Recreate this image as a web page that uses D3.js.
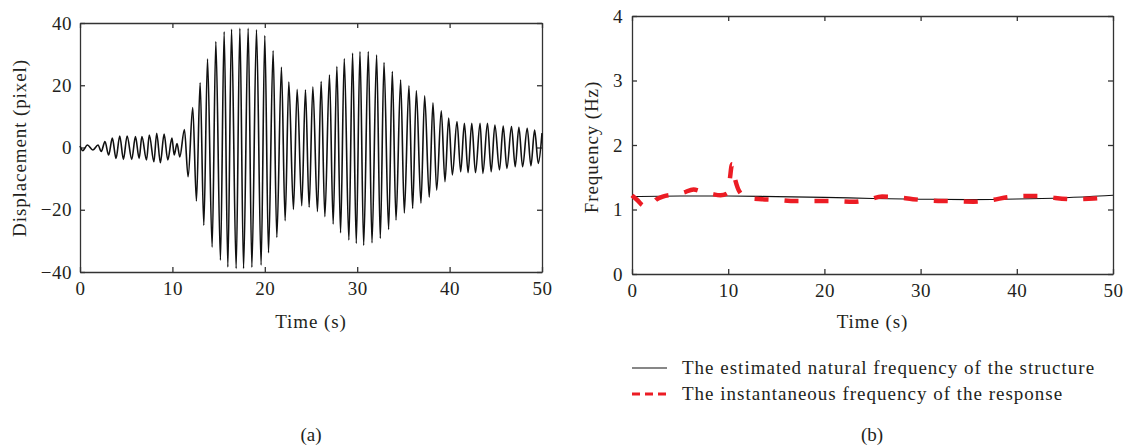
<!DOCTYPE html>
<html><head><meta charset="utf-8">
<script src="https://cdn.jsdelivr.net/npm/d3@7"></script>
<style>
body{margin:0;background:#fff}
svg text{font-family:"Liberation Serif","Times New Roman",serif;fill:#231f20}
</style>
</head><body>
<svg id="c" width="1132" height="447"></svg>
<script>
// ---- Panel (a): displacement extrema (time s, pixel) ----
const dispTime = [0.0,0.3,0.8,1.4,1.95,2.3,2.7,3.1,3.5,3.9,4.3,4.7,5.1,5.6,6.0,6.4,6.7,7.2,7.5,8.0,8.3,8.7,9.1,9.5,9.95,10.2,10.5,10.8,11.3,11.7,12.2,12.6,13.0,13.4,13.8,14.3,14.7,15.2,15.6,16.0,16.4,16.9,17.3,17.7,18.2,18.6,19.1,19.6,20.0,20.4,20.9,21.3,21.8,22.2,22.6,23.1,23.5,24.0,24.4,24.8,25.2,25.7,26.1,26.5,27.0,27.4,27.8,28.2,28.6,29.1,29.5,29.9,30.3,30.7,31.2,31.6,32.1,32.5,32.9,33.4,33.8,34.2,34.7,35.1,35.6,36.0,36.4,36.9,37.3,37.8,38.2,38.6,39.1,39.5,39.9,40.3,40.8,41.2,41.6,42.0,42.4,42.8,43.3,43.6,44.1,44.5,44.9,45.4,45.8,46.2,46.7,47.1,47.5,47.9,48.4,48.8,49.2,49.6,50.0];
const dispValue = [0.5,-1.0,0.8,-0.8,0.8,-1.3,1.9,-2.4,3.0,-3.5,3.7,-3.8,3.7,-3.8,3.5,-3.5,3.5,-4.0,4.0,-4.6,4.6,-4.9,4.3,-4.0,3.0,-2.4,1.3,-3.0,5.8,-9.4,12.8,-17.2,20.8,-25.0,28.4,-32.0,34.0,-36.2,37.2,-38.4,38.0,-38.9,38.3,-38.9,38.3,-38.5,37.8,-37.8,36.0,-33.8,31.1,-28.9,25.8,-23.5,21.0,-19.9,18.7,-18.7,18.5,-19.2,19.5,-20.6,21.2,-22.2,23.3,-24.6,26.0,-27.4,28.5,-29.7,30.3,-30.8,30.8,-31.4,30.8,-30.6,29.7,-29.2,27.3,-26.3,24.4,-23.3,21.7,-21.0,19.8,-19.6,18.3,-17.9,16.6,-16.0,14.4,-13.7,11.8,-11.0,9.5,-8.8,8.3,-7.8,7.8,-8.1,7.8,-8.1,7.8,-8.3,7.8,-7.8,7.2,-7.2,6.9,-6.7,6.7,-6.2,6.5,-6.2,6.2,-5.9,5.6,-5.1,4.6];
const dispYTicks = [-40,-20,0,20,40];
const timeTicks = [0,10,20,30,40,50];

// ---- Panel (b): frequencies (Hz) ----
const natTime = [0,5,10,15,20,25,30,35,40,45,50];
const natFreq = [1.20,1.21,1.21,1.20,1.19,1.17,1.16,1.15,1.16,1.18,1.22];
const instTime = [0,0.6,1.2,1.9,2.5,3.2,4.2,5.3,6.4,7.4,8.3,9.2,9.9,10.15,10.4,10.75,11.2,12.0,13.5,15,17,19,21,23,24.5,26,27.5,29.2,31,33,35.5,37.5,39,41,42.5,44,46,48,50];
const instFreq = [1.22,1.14,1.06,1.06,1.15,1.20,1.23,1.26,1.31,1.27,1.24,1.22,1.25,1.45,1.70,1.45,1.27,1.18,1.16,1.15,1.13,1.13,1.13,1.12,1.15,1.20,1.19,1.16,1.14,1.13,1.12,1.15,1.19,1.21,1.21,1.18,1.16,1.17,1.20];
const freqYTicks = [0,1,2,3,4];
const legendLabels = ["The estimated natural frequency of the structure","The instantaneous frequency of the response"];

const svg = d3.select("#c");
const FS = 19, LS = "0.9px", FRAME = "#333";

function panel(box, xDom, yDom, yTicks, yTitle, pad){
  const x = d3.scaleLinear().domain(xDom).range([box.l, box.r]);
  const y = d3.scaleLinear().domain(yDom).range([box.b, box.t]);
  const g = svg.append("g");
  const style = sel => { sel.selectAll("path,line").attr("stroke",FRAME).attr("stroke-width",1.3);
    sel.selectAll("text").attr("font-size",FS).attr("letter-spacing","0.5px").attr("fill","#231f20").attr("font-family",'"Liberation Serif",serif'); };
  g.append("g").attr("transform",`translate(0,${box.b})`)
    .call(d3.axisBottom(x).tickValues(timeTicks).tickSize(-5).tickSizeOuter(0).tickPadding(10).tickFormat(d3.format("d"))).call(style);
  g.append("g").attr("transform",`translate(0,${box.t})`)
    .call(d3.axisTop(x).tickValues(timeTicks).tickSize(-5).tickSizeOuter(0).tickFormat("")).call(style);
  g.append("g").attr("transform",`translate(${box.l},0)`)
    .call(d3.axisLeft(y).tickValues(yTicks).tickSize(-5).tickSizeOuter(0).tickPadding(pad).tickFormat(d3.format("d"))).call(style);
  g.append("g").attr("transform",`translate(${box.r},0)`)
    .call(d3.axisRight(y).tickValues(yTicks).tickSize(-5).tickSizeOuter(0).tickFormat("")).call(style);
  g.selectAll(".domain").attr("stroke",FRAME);
  const cx = (box.l+box.r)/2;
  g.append("text").attr("x",cx).attr("y",328).attr("text-anchor","middle").attr("font-size",FS).attr("letter-spacing",LS).text("Time (s)");
  g.append("text").attr("transform",`translate(${box.titleX},${box.titleY}) rotate(-90)`)
    .attr("text-anchor","middle").attr("font-size",FS).attr("letter-spacing",LS).text(yTitle);
  return {x,y,g};
}

// Panel a
const A = panel({l:80,r:542,t:23,b:272,titleX:26,titleY:148}, [0,50], [-40,40], dispYTicks, "Displacement (pixel)", 8);
const dispData = dispTime.map((t,i)=>({t, v:dispValue[i]}));
A.g.append("path").datum(dispData)
  .attr("fill","none").attr("stroke","#111").attr("stroke-width",1.6)
  .attr("d", d3.line().x(d=>A.x(d.t)).y(d=>A.y(d.v)).curve(d3.curveMonotoneX));

// Panel b
const B = panel({l:632,r:1113,t:16,b:274,titleX:598,titleY:147}, [0,50], [0,4], freqYTicks, "Frequency (Hz)", 9);
const natData = natTime.map((t,i)=>({t, v:natFreq[i]}));
const instData = instTime.map((t,i)=>({t, v:instFreq[i]}));
B.g.append("path").datum(natData)
  .attr("fill","none").attr("stroke","#111").attr("stroke-width",1.1)
  .attr("d", d3.line().x(d=>B.x(d.t)).y(d=>B.y(d.v)).curve(d3.curveBasis));
B.g.append("path").datum(instData)
  .attr("fill","none").attr("stroke","#ec1c24").attr("stroke-width",4.5)
  .attr("stroke-dasharray","14,16")
  .attr("d", d3.line().x(d=>B.x(d.t)).y(d=>B.y(d.v)).curve(d3.curveMonotoneX));

// Legend
const lg = svg.append("g");
const legY = [368, 394];
lg.append("line").attr("x1",632).attr("x2",667).attr("y1",legY[0]).attr("y2",legY[0]).attr("stroke","#111").attr("stroke-width",1.2);
lg.append("line").attr("x1",632).attr("x2",667).attr("y1",legY[1]).attr("y2",legY[1]).attr("stroke","#ec1c24").attr("stroke-width",3).attr("stroke-dasharray","8,5");
legendLabels.forEach((s,i)=>{
  lg.append("text").attr("x",682).attr("y",legY[i]+6).attr("font-size",19).attr("letter-spacing","1px").text(s);
});

// Panel captions
svg.append("text").attr("x",311).attr("y",441).attr("text-anchor","middle").attr("font-size",FS).text("(a)");
svg.append("text").attr("x",872).attr("y",441).attr("text-anchor","middle").attr("font-size",FS).text("(b)");
</script>
</body></html>
